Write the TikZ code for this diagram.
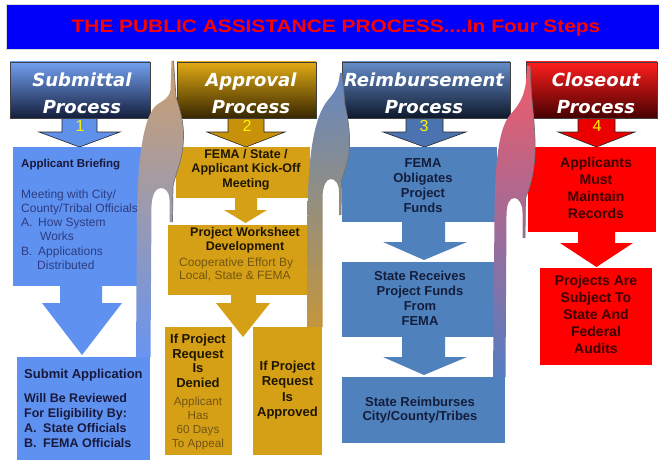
\documentclass[tikz,border=0pt]{standalone}
\usepackage{fontspec}
\setmainfont{Liberation Sans}
\newfontfamily\hdrfont{DejaVu Sans}
\usepackage{graphicx}
\definecolor{titleblue}{RGB}{0,0,250}
\definecolor{colA}{RGB}{95,145,240}
\definecolor{colB}{RGB}{214,160,22}
\definecolor{colC}{RGB}{79,129,189}
\definecolor{colD}{RGB}{255,0,0}
\definecolor{txtA}{RGB}{25,25,60}
\definecolor{txtAl}{RGB}{45,60,130}
\definecolor{txtB}{RGB}{30,22,0}
\definecolor{txtBl}{RGB}{115,85,15}
\definecolor{txtC}{RGB}{20,30,60}
\definecolor{txtD}{RGB}{60,0,0}
\definecolor{arA}{RGB}{95,145,235}
\definecolor{arB}{RGB}{200,145,10}
\definecolor{arC}{RGB}{75,115,175}
\definecolor{arD}{RGB}{235,0,0}
\tikzset{
  box/.style={rectangle, inner sep=0pt, outer sep=0pt},
  hdr/.style={box, draw=black!75, line width=0.6pt},
  hdrA/.style={hdr, top color={rgb,255:red,115;green,160;blue,240}, middle color={rgb,255:red,45;green,82;blue,160}, bottom color={rgb,255:red,20;green,30;blue,60}},
  hdrB/.style={hdr, top color={rgb,255:red,225;green,170;blue,20}, middle color={rgb,255:red,150;green,105;blue,5}, bottom color={rgb,255:red,55;green,38;blue,0}},
  hdrC/.style={hdr, top color={rgb,255:red,100;green,140;blue,200}, middle color={rgb,255:red,45;green,75;blue,125}, bottom color={rgb,255:red,15;green,25;blue,45}},
  hdrD/.style={hdr, top color={rgb,255:red,255;green,30;blue,30}, middle color={rgb,255:red,190;green,0;blue,0}, bottom color={rgb,255:red,70;green,0;blue,0}},
  hdrtxt/.style={text=white, font=\hdrfont\bfseries\itshape\fontsize{18}{27}\selectfont, align=center, inner sep=0pt},
  numtxt/.style={text=yellow, font=\fontsize{16}{16}\selectfont, inner sep=0pt},
  harrow/.style={draw=black!85, line width=0.6pt, line join=miter},
  txt/.style={inner sep=0pt, align=center},
  bandA/.style={top color={rgb,255:red,205;green,160;blue,110}, middle color={rgb,255:red,165;green,150;blue,190}, bottom color={rgb,255:red,105;green,148;blue,240}},
  bandB/.style={top color={rgb,255:red,100;green,135;blue,195}, middle color={rgb,255:red,150;green,145;blue,160}, bottom color={rgb,255:red,195;green,150;blue,60}},
  bandC/.style={top color={rgb,255:red,240;green,90;blue,105}, middle color={rgb,255:red,185;green,105;blue,150}, bottom color={rgb,255:red,85;green,125;blue,195}},
  bandedge/.style={draw=black!55, line width=0.7pt}
}
\begin{document}
\begin{tikzpicture}[x=1pt,y=-1pt]
\useasboundingbox (0,0) rectangle (659,460);
\fill[white] (0,0) rectangle (659,460);

% title bar
\node[box, fill=titleblue, draw=black!15, line width=1pt, minimum width=654pt, minimum height=45pt] (bar) at (333,27.5) {};
\node[inner sep=0pt, text=red, font=\bfseries\fontsize{18}{20}\selectfont] (title) at (336,28) {\scalebox{1.16}[1]{THE PUBLIC ASSISTANCE PROCESS....In Four Steps}};

% header arrows
\filldraw[harrow, fill=arA] (62,116) -- (97,116) -- (97,132) -- (120,132) -- (79.5,147) -- (39,132) -- (62,132) -- cycle;
\filldraw[harrow, fill=arB] (228,116) -- (264,116) -- (264,132) -- (285,132) -- (246,147) -- (207,132) -- (228,132) -- cycle;
\filldraw[harrow, fill=arC] (406,116) -- (443,116) -- (443,132) -- (466,132) -- (424.5,147) -- (383,132) -- (406,132) -- cycle;
\filldraw[harrow, fill=arD] (578,116) -- (615,116) -- (615,132) -- (635,132) -- (596.5,147) -- (558,132) -- (578,132) -- cycle;

% headers
\node[hdrA, minimum width=140pt, minimum height=56pt] (h1) at (80,90) {};
\node[hdrB, minimum width=139pt, minimum height=56pt] (h2) at (246.5,90) {};
\node[hdrC, minimum width=168pt, minimum height=56pt] (h3) at (426,90) {};
\node[hdrD, minimum width=131pt, minimum height=56pt] (h4) at (591.5,90) {};
\node[hdrtxt] (ht1) at (82,93) {Submittal\\Process};
\node[hdrtxt] (ht2) at (251,93) {Approval\\Process};
\node[hdrtxt] (ht3) at (424,93) {Reimbursement\\Process};
\node[hdrtxt] (ht4) at (596,93) {Closeout\\Process};
\node[numtxt] (n1) at (80,125.5) {1};
\node[numtxt] (n2) at (247,125.5) {2};
\node[numtxt] (n3) at (424,125.5) {3};
\node[numtxt] (n4) at (597,126) {4};

% column 1 : submittal
\node[box, fill=colA, minimum width=137pt, minimum height=139pt] (b1a) at (81.5,216.5) {};
\fill[colA] (60,284) -- (102,284) -- (102,303) -- (122,303) -- (82,355) -- (42,303) -- (60,303) -- cycle;
\node[box, fill=colA, minimum width=133pt, minimum height=106pt] (b1b) at (83.5,410) {};
\node[inner sep=0pt, anchor=west, text=txtA, font=\bfseries\fontsize{11.5}{14}\selectfont] (t1a) at (21,165) {Applicant Briefing};
\node[inner sep=0pt, anchor=west, align=left, text=txtAl, font=\fontsize{12}{14.2}\selectfont] (t1b) at (21,229.5) {Meeting with City/\\County/Tribal Officials\\A.\hspace{5.7pt}How System\\\hspace*{19pt}Works\\B.\hspace{5.7pt}Applications\\\hspace*{16pt}Distributed};
\node[inner sep=0pt, anchor=west, text=txtA, font=\bfseries\fontsize{13}{15}\selectfont] (t1c) at (24,375) {Submit Application};
\node[inner sep=0pt, anchor=west, align=left, text=txtA, font=\bfseries\fontsize{12.5}{15}\selectfont] (t1d) at (24,420.5) {Will Be Reviewed\\For Eligibility By:\\A.\hspace{6.5pt}State Officials\\B.\hspace{6.5pt}FEMA Officials};

% column 2 : approval
\node[box, fill=colB, minimum width=134pt, minimum height=51pt] (b2a) at (243,172.5) {};
\fill[colB] (235,196) -- (257,196) -- (257,210) -- (267,210) -- (245.5,223) -- (224,210) -- (235,210) -- cycle;
\node[box, fill=colB, minimum width=139pt, minimum height=70pt] (b2b) at (237.5,260) {};
\fill[colB] (231,293) -- (256,293) -- (256,303) -- (270,303) -- (243,337) -- (216,303) -- (231,303) -- cycle;
\node[box, fill=colB, minimum width=67pt, minimum height=128pt] (b2c) at (198.5,391) {};
\node[box, fill=colB, minimum width=69pt, minimum height=128pt] (b2d) at (287.5,391) {};
\node[txt, text=txtB, font=\bfseries\fontsize{12.5}{14.5}\selectfont] (t2a) at (246,169.5) {FEMA / State /\\Applicant Kick-Off\\Meeting};
\node[txt, text=txtB, font=\bfseries\fontsize{12.5}{14}\selectfont] (t2b) at (245,240) {Project Worksheet\\Development};
\node[inner sep=0pt, anchor=west, align=left, text=txtBl, font=\fontsize{12}{13}\selectfont] (t2c) at (179,269) {Cooperative Effort By\\Local, State \& FEMA};
\node[txt, text=txtB, font=\bfseries\fontsize{13}{14.7}\selectfont] (t2d) at (198,361) {If Project\\Request\\Is\\Denied};
\node[txt, text=txtBl, font=\fontsize{11.7}{13.7}\selectfont] (t2e) at (198,423.5) {Applicant\\Has\\60 Days\\To Appeal};
\node[txt, text=txtB, font=\bfseries\fontsize{13}{15.3}\selectfont] (t2f) at (287.5,390) {If Project\\Request\\Is\\Approved};

% column 3 : reimbursement
\node[box, fill=colC, minimum width=155pt, minimum height=75pt] (b3a) at (419.5,184.5) {};
\fill[colC] (402,220) -- (445,220) -- (445,242) -- (467,242) -- (424,260) -- (383,242) -- (402,242) -- cycle;
\node[box, fill=colC, minimum width=155pt, minimum height=75pt] (b3b) at (419.5,299.5) {};
\fill[colC] (402,335) -- (445,335) -- (445,357) -- (467,357) -- (424,375) -- (383,357) -- (402,357) -- cycle;
\node[box, fill=colC, minimum width=163pt, minimum height=66pt] (b3c) at (423.5,410) {};
\node[txt, text=txtC, font=\bfseries\fontsize{13}{15}\selectfont] (t3a) at (423,185.5) {FEMA\\Obligates\\Project\\Funds};
\node[txt, text=txtC, font=\bfseries\fontsize{13}{15}\selectfont] (t3b) at (420,298.5) {State Receives\\Project Funds\\From\\FEMA};
\node[txt, text=txtC, font=\bfseries\fontsize{13}{14}\selectfont] (t3c) at (420,410) {State Reimburses\\City/County/Tribes};

% column 4 : closeout
\node[box, fill=colD, minimum width=128pt, minimum height=85pt] (b4a) at (592,189.5) {};
\fill[colD] (578,230) -- (615,230) -- (615,243) -- (633,243) -- (596.5,267) -- (560,243) -- (578,243) -- cycle;
\node[box, fill=colD, minimum width=112pt, minimum height=97pt] (b4b) at (596,316.5) {};
\node[txt, text=txtD, font=\bfseries\fontsize{14}{17}\selectfont] (t4a) at (596,187.5) {Applicants\\Must\\Maintain\\Records};
\node[txt, text=txtD, font=\bfseries\fontsize{14}{17}\selectfont] (t4b) at (596,314) {Projects Are\\Subject To\\State And\\Federal\\Audits};

% curved bands linking the steps
\shade[bandA] (136,357) -- (137,215) .. controls (138,145) and (146,112) .. (158,104) .. controls (164,100) and (169,98) .. (170.5,90) -- (171.5,61) -- (173.5,61) -- (176,97) .. controls (180,110) and (184,122) .. (183.5,138) .. controls (183,160) and (176,172) .. (173,186) -- (172.5,222) -- (169.5,222) -- (169.5,200) .. controls (169.5,192) and (165.5,188) .. (161,188) .. controls (156,188) and (152,194) .. (151.5,206) -- (150.5,357) -- cycle;
\draw[bandedge] (173.5,61) -- (176,97) .. controls (180,110) and (184,122) .. (183.5,138) .. controls (183,160) and (176,172) .. (173,186) -- (172.5,222);

\shade[bandB] (307,327) -- (307.5,215) .. controls (308,160) and (313,118) .. (328,100) .. controls (334,93) and (337.5,88) .. (339,80) -- (340,73) -- (342,73) -- (345,105) .. controls (348,118) and (350,132) .. (349.5,145) .. controls (349,162) and (344,172) .. (341.5,180) -- (341,215) -- (339,215) -- (339,192) .. controls (339,184) and (335.5,179) .. (331,179) .. controls (326,179) and (323,186) .. (322.5,196) -- (322.5,327) -- cycle;
\draw[bandedge] (342,73) -- (345,105) .. controls (348,118) and (350,132) .. (349.5,145) .. controls (349,162) and (344,172) .. (341.5,180) -- (341,215);

\shade[bandC] (493,377) -- (494.5,215) .. controls (495,160) and (499,128) .. (510,115) .. controls (518,106) and (524,98) .. (526,82) -- (527,66) -- (530,66) -- (531.5,95) .. controls (533.5,115) and (535.5,135) .. (535,152) .. controls (534.5,172) and (530,188) .. (525.5,198) -- (525,238) -- (522.5,238) -- (522.5,212) .. controls (522.5,204) and (518.5,198) .. (514.5,198) .. controls (509.5,198) and (506.5,204) .. (506.5,215) -- (505.5,377) -- cycle;
\draw[bandedge] (530,66) -- (531.5,95) .. controls (533.5,115) and (535.5,135) .. (535,152) .. controls (534.5,172) and (530,188) .. (525.5,198) -- (525,238);
\end{tikzpicture}
\end{document}
